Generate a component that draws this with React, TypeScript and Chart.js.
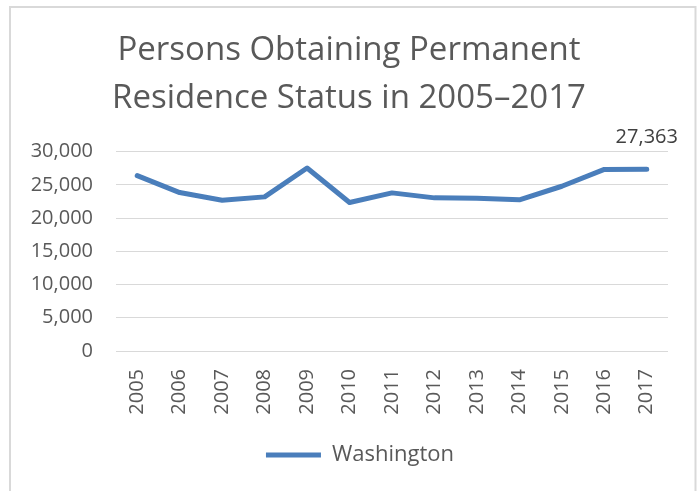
import React, { useEffect, useRef } from "react";
import { Chart, registerables } from "chart.js";

Chart.register(...registerables);

const titleLines = ["Persons Obtaining Permanent", "Residence Status in 2005\u20132017"];
const years = ["2005", "2006", "2007", "2008", "2009", "2010", "2011", "2012", "2013", "2014", "2015", "2016", "2017"];
const washington = [26400, 23850, 22700, 23200, 27550, 22350, 23800, 23050, 23000, 22750, 24800, 27330, 27363];
const seriesName = "Washington";
const yMin = 0;
const yMax = 30000;
const yStep = 5000;

const FONT = "'Open Sans', 'DejaVu Sans', sans-serif";
const GREY_TEXT = "#595959";
const LINE_COLOR = "#4a7ebb";

const frameAndLabel = {
  id: "frameAndLabel",
  afterLayout(chart: any) {
    const lg = chart.legend;
    if (lg) {
      lg.left += 11;
      lg.right += 11;
    }
  },
  beforeDraw(chart: any) {
    const ctx = chart.ctx;
    ctx.save();
    ctx.fillStyle = "#ffffff";
    ctx.fillRect(0, 0, chart.width, chart.height);
    ctx.strokeStyle = "#d9d9d9";
    ctx.lineWidth = 2;
    ctx.strokeRect(10, 7, chart.width - 12.5, chart.height + 20);
    ctx.restore();
  },
  afterDatasetsDraw(chart: any) {
    const meta = chart.getDatasetMeta(0);
    const last = meta.data.length - 1;
    const pt = meta.data[last];
    const ctx = chart.ctx;
    ctx.save();
    ctx.font = `20px ${FONT}`;
    ctx.fillStyle = "#404040";
    ctx.textAlign = "center";
    ctx.textBaseline = "middle";
    const v = chart.data.datasets[0].data[last] as number;
    ctx.fillText(v.toLocaleString("en-US"), pt.x, pt.y - 32);
    ctx.restore();
  },
};

export default function App() {
  const ref = useRef<HTMLCanvasElement | null>(null);
  useEffect(() => {
    if (!ref.current) return;
    const chart = new Chart(ref.current, {
      type: "line",
      data: {
        labels: years,
        datasets: [
          {
            label: seriesName,
            data: washington,
            borderColor: LINE_COLOR,
            backgroundColor: LINE_COLOR,
            borderWidth: 5,
            borderCapStyle: "round",
            borderJoinStyle: "round",
            pointRadius: 0,
            pointHoverRadius: 0,
            tension: 0,
          },
        ],
      },
      options: {
        animation: false,
        responsive: true,
        maintainAspectRatio: false,
        layout: { padding: { left: 30, right: 30, top: 0, bottom: 15 } },
        plugins: {
          title: {
            display: true,
            text: titleLines,
            color: GREY_TEXT,
            font: { family: FONT, size: 33, weight: "normal", lineHeight: 1.45 },
            padding: { top: 27, bottom: 29 },
          },
          legend: {
            display: true,
            position: "bottom",
            labels: {
              color: GREY_TEXT,
              font: { family: FONT, size: 22 },
              usePointStyle: true,
              pointStyle: "line",
              pointStyleWidth: 55,
              padding: 10,
            },
          },
          tooltip: { enabled: false },
        },
        scales: {
          x: {
            type: "category",
            offset: true,
            grid: { display: false, drawTicks: false },
            border: { display: false },
            ticks: {
              color: GREY_TEXT,
              font: { family: FONT, size: 20 },
              minRotation: 90,
              maxRotation: 90,
              autoSkip: false,
              padding: 18,
            },
            afterFit(scale: any) {
              scale.height = 83;
            },
          },
          y: {
            min: yMin,
            max: yMax,
            grid: { color: "#d9d9d9", lineWidth: 1, drawTicks: false },
            border: { display: false },
            ticks: {
              stepSize: yStep,
              color: GREY_TEXT,
              font: { family: FONT, size: 20 },
              padding: 23,
              callback: (v: any) => Number(v).toLocaleString("en-US"),
            },
            afterFit(scale: any) {
              scale.width = 86;
            },
          },
        },
      },
      plugins: [frameAndLabel],
    });
    return () => chart.destroy();
  }, []);
  return (
    <div style={{ position: "fixed", left: 0, top: 0, width: 698, height: 491, background: "#fff" }}>
      <canvas ref={ref} />
    </div>
  );
}
